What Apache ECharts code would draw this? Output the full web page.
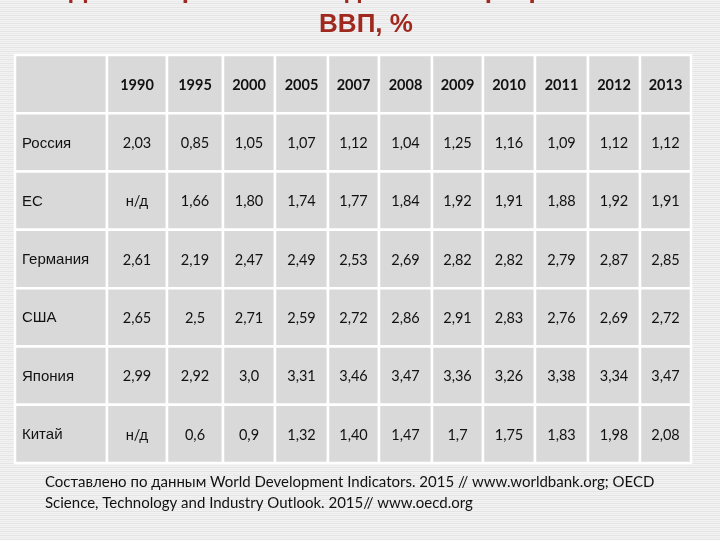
<!DOCTYPE html>
<html><head><meta charset="utf-8">
<script src="https://cdn.jsdelivr.net/npm/echarts@6/dist/echarts.min.js"></script>
<style>html,body{margin:0;padding:0;background:#efefef}#c{width:720px;height:540px}</style>
</head><body><div id="c"></div>
<script>
// ---- content ----
const titleLine1 = 'Доля затрат на исследования и разработки в';
const titleLine2 = 'ВВП, %';
const years = ['1990','1995','2000','2005','2007','2008','2009','2010','2011','2012','2013'];
const countries = ['Россия','ЕС','Германия','США','Япония','Китай'];
const russia  = ['2,03','0,85','1,05','1,07','1,12','1,04','1,25','1,16','1,09','1,12','1,12'];
const eu      = ['н/д','1,66','1,80','1,74','1,77','1,84','1,92','1,91','1,88','1,92','1,91'];
const germany = ['2,61','2,19','2,47','2,49','2,53','2,69','2,82','2,82','2,79','2,87','2,85'];
const usa     = ['2,65','2,5','2,71','2,59','2,72','2,86','2,91','2,83','2,76','2,69','2,72'];
const japan   = ['2,99','2,92','3,0','3,31','3,46','3,47','3,36','3,26','3,38','3,34','3,47'];
const china   = ['н/д','0,6','0,9','1,32','1,40','1,47','1,7','1,75','1,83','1,98','2,08'];
const sourceLine1 = 'Составлено по данным World Development Indicators. 2015 // www.worldbank.org; OECD';
const sourceLine2 = 'Science, Technology and Industry Outlook. 2015// www.oecd.org';

// ---- layout (style only): relative column widths of the year columns ----
const colWidths = [60, 56, 52, 53, 51, 53, 51, 52, 53, 52, 51];
const colEdges = [0];
colWidths.forEach(w => colEdges.push(colEdges[colEdges.length - 1] + w));
const totalW = colEdges[colEdges.length - 1];

const rowsValues = [russia, eu, germany, usa, japan, china];
const rowCats = [''].concat(countries);

// ---- data for series ----
const labelData = rowCats.map((c, i) => [0, i]);
const labelText = rowCats.slice();
const valueData = [], valueText = [], valueHead = [];
years.forEach((y, j) => { valueData.push([j, 0]); valueText.push(y); valueHead.push(true); });
rowsValues.forEach((arr, i) => arr.forEach((v, j) => {
  valueData.push([j, i + 1]); valueText.push(v); valueHead.push(false);
}));

// background stripes pattern
const pc = document.createElement('canvas'); pc.width = 4; pc.height = 4;
const g = pc.getContext('2d');
g.fillStyle = '#f2f2f2'; g.fillRect(0, 0, 4, 4);
g.fillStyle = '#e4e4e4'; g.fillRect(0, 3, 4, 1);
g.fillStyle = '#ebebeb'; g.fillRect(0, 1, 4, 1);

const CELL = '#d9d9d9';
const numFont = 'Lato, "Open Sans", sans-serif';

function rectStyle() { return { fill: CELL, stroke: '#ffffff', lineWidth: 2.5 }; }

function labelCell(params, api) {
  const c = api.coord([api.value(0), api.value(1)]);
  const s = api.size([1, 1]);
  const x0 = c[0] - s[0] / 2, y0 = c[1] - s[1] / 2;
  const txt = labelText[params.dataIndex];
  const children = [{ type: 'rect', shape: { x: x0, y: y0, width: s[0], height: s[1] }, style: rectStyle() }];
  if (txt) children.push({ type: 'text', style: {
    x: x0 + 7, y: c[1] + 1, text: txt, fill: '#111',
    font: '15px "Liberation Sans", Arial, sans-serif', align: 'left', verticalAlign: 'middle' } });
  return { type: 'group', children: children };
}

function valueCell(params, api) {
  const j = api.value(0), row = api.value(1);
  const a = api.coord([colEdges[j], row]);
  const b = api.coord([colEdges[j + 1], row]);
  const h = api.size([0, 1])[1];
  const y0 = a[1] - h / 2;
  const i = params.dataIndex;
  return { type: 'group', children: [
    { type: 'rect', shape: { x: a[0], y: y0, width: b[0] - a[0], height: h }, style: rectStyle() },
    { type: 'text', style: {
      x: (a[0] + b[0]) / 2, y: a[1] + 1, text: valueText[i], fill: '#111',
      font: (valueHead[i] ? 'bold ' : '') + '14.5px ' + numFont,
      align: 'center', verticalAlign: 'middle' } }
  ] };
}

const chart = echarts.init(document.getElementById('c'), null, { renderer: 'canvas' });
chart.setOption({
  animation: false,
  backgroundColor: '#efefef',
  grid: [
    { left: 15, top: 55, width: 92, height: 408 },
    { left: 107, top: 55, width: 584, height: 408 }
  ],
  xAxis: [
    { gridIndex: 0, type: 'category', data: [''], show: false },
    { gridIndex: 1, type: 'value', min: 0, max: totalW, show: false, splitLine: { show: false } }
  ],
  yAxis: [
    { gridIndex: 0, type: 'category', data: rowCats, inverse: true, show: false },
    { gridIndex: 1, type: 'category', data: rowCats, inverse: true, show: false }
  ],
  graphic: [
    { type: 'rect', z: -10, silent: true, shape: { x: 0, y: 0, width: 720, height: 540 },
      style: { fill: { image: pc, repeat: 'repeat' } } },
    { type: 'text', x: 362, y: -9, style: { text: titleLine1, fill: '#a0291f',
      font: 'bold 26px "Liberation Sans", Arial, sans-serif', align: 'center', verticalAlign: 'middle' } },
    { type: 'text', x: 366, y: 25, style: { text: titleLine2, fill: '#a0291f',
      font: 'bold 26px "Liberation Sans", Arial, sans-serif', align: 'center', verticalAlign: 'middle' } },
    { type: 'text', x: 45, y: 482, style: { text: sourceLine1, fill: '#111',
      font: '15px ' + numFont, align: 'left', verticalAlign: 'middle' } },
    { type: 'text', x: 45, y: 503, style: { text: sourceLine2, fill: '#111',
      font: '15px ' + numFont, align: 'left', verticalAlign: 'middle' } }
  ],
  series: [
    { type: 'custom', xAxisIndex: 0, yAxisIndex: 0, data: labelData, renderItem: labelCell },
    { type: 'custom', xAxisIndex: 1, yAxisIndex: 1, data: valueData, renderItem: valueCell }
  ]
});
</script></body></html>
